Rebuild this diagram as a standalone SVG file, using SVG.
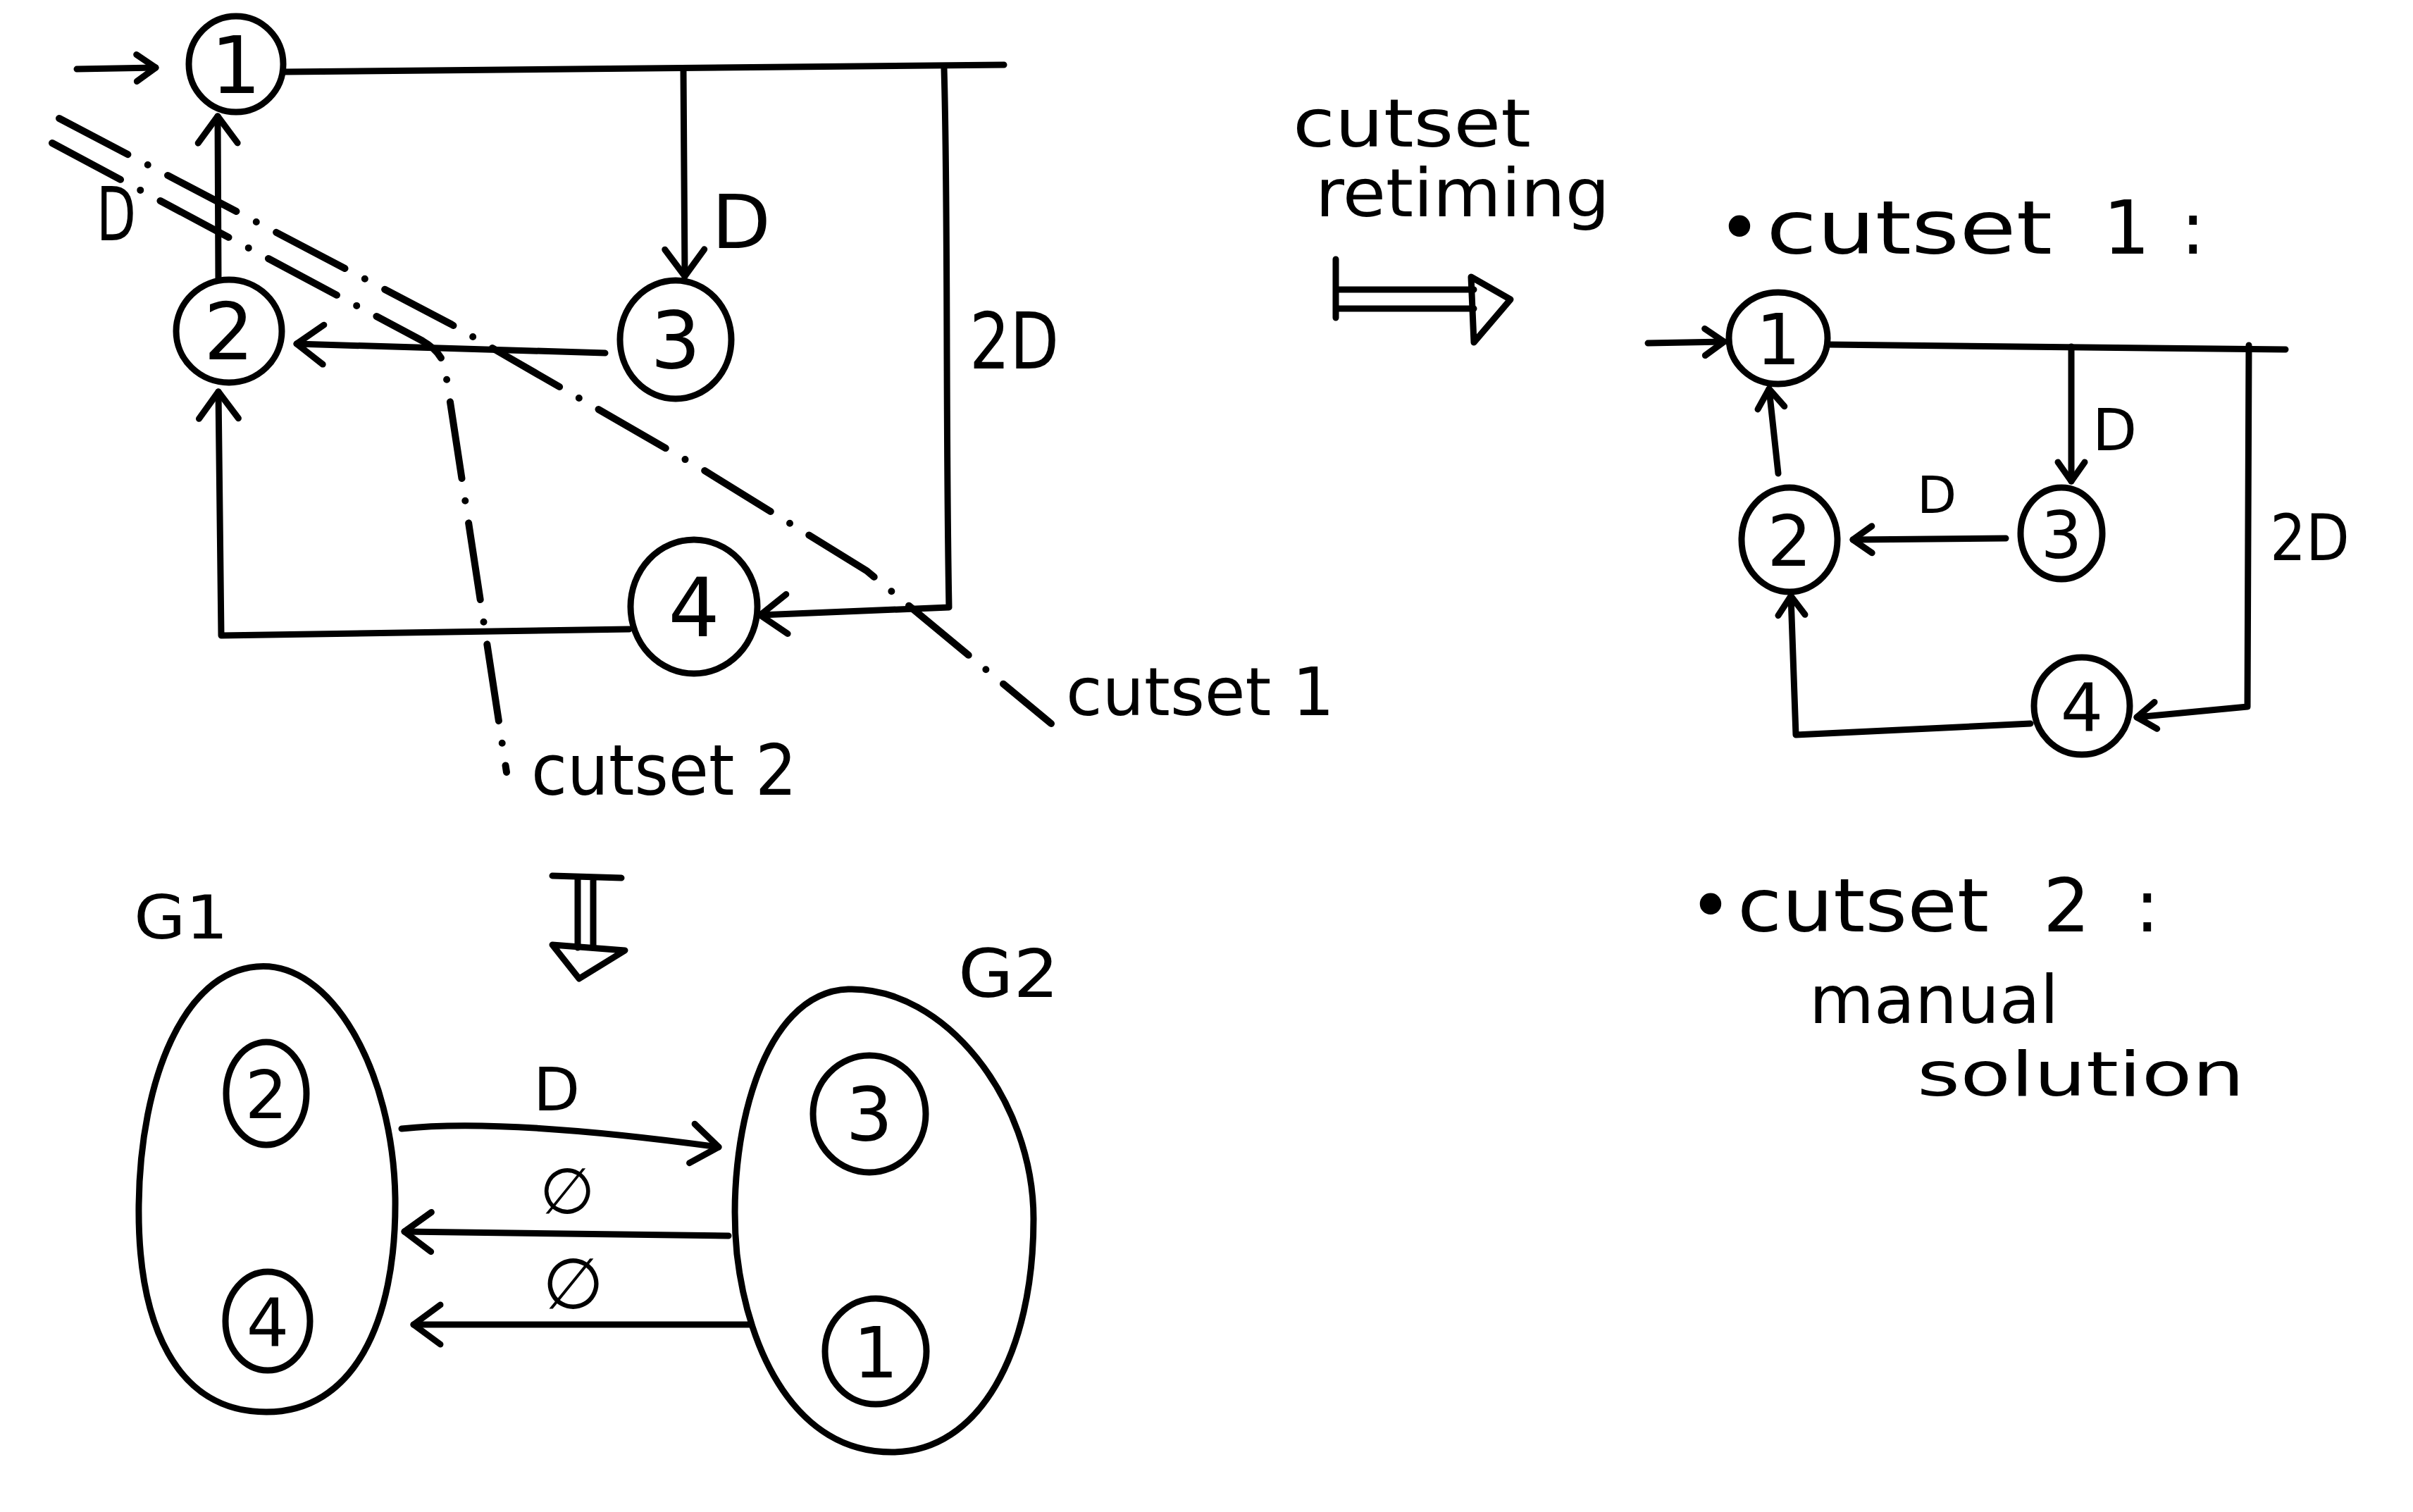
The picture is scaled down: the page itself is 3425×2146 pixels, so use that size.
<svg xmlns="http://www.w3.org/2000/svg" width="3425" height="2146" viewBox="0 0 3425 2146">
<style>
.s{fill:none;stroke:#000;stroke-width:9;stroke-linecap:round;stroke-linejoin:round}
.n{fill:#fff;stroke:#000;stroke-width:9}
.cut{fill:none;stroke:#000;stroke-width:10;stroke-linecap:round;stroke-dasharray:110 32 0 32}
text{font-family:"DejaVu Sans","Liberation Sans",sans-serif;fill:#000}
.d{text-anchor:middle}
</style>
<defs>
<marker id="ab" markerUnits="userSpaceOnUse" viewBox="-50 -40 60 80" markerWidth="60" markerHeight="80" refX="0" refY="0" orient="auto" overflow="visible">
<path d="M -38,-28 L 0,0 L -38,28" fill="none" stroke="#000" stroke-width="9" stroke-linecap="round" stroke-linejoin="round"/>
</marker>
<marker id="as" markerUnits="userSpaceOnUse" viewBox="-40 -30 50 60" markerWidth="50" markerHeight="60" refX="0" refY="0" orient="auto" overflow="visible">
<path d="M -27,-19 L 0,0 L -27,19" fill="none" stroke="#000" stroke-width="9" stroke-linecap="round" stroke-linejoin="round"/>
</marker>
</defs>
<rect width="3425" height="2146" fill="#fff"/>

<g id="connectors">
<!-- top-left graph -->
<path class="s" d="M 109,98 L 221,96" marker-end="url(#as)"/>
<path class="s" d="M 404,102 L 1425,92"/>
<path class="s" d="M 970,100 L 972,392" marker-end="url(#ab)"/>
<path class="s" d="M 1340,97 C 1346,300 1342,600 1347,862 L 1079,873" marker-end="url(#ab)"/>
<path class="s" d="M 859,501 L 421,488" marker-end="url(#ab)"/>
<path class="s" d="M 310,397 L 309,165" marker-end="url(#ab)"/>
<path class="s" d="M 893,893 L 314,902 L 310,556" marker-end="url(#ab)"/>
<!-- right graph -->
<path class="s" d="M 2339,487 L 2447,485" marker-end="url(#as)"/>
<path class="s" d="M 2595,489 L 3244,496"/>
<path class="s" d="M 2940,492 L 2940,683" marker-end="url(#as)"/>
<path class="s" d="M 2847,764 L 2630,766" marker-end="url(#as)"/>
<path class="s" d="M 2524,672 L 2511,552" marker-end="url(#as)"/>
<path class="s" d="M 3192,490 L 3190,1003 L 3033,1018" marker-end="url(#as)"/>
<path class="s" d="M 2882,1027 L 2549,1043 L 2542,846" marker-end="url(#as)"/>
<!-- bottom graph -->
<path class="s" d="M 570,1602 C 680,1590 850,1605 1020,1628" marker-end="url(#ab)"/>
<path class="s" d="M 1034,1754 L 574,1748" marker-end="url(#ab)"/>
<path class="s" d="M 1065,1880 L 587,1880" marker-end="url(#ab)"/>
</g>

<g id="cutsets">
<path class="cut" d="M 84,168 L 640,460 L 1000,668 L 1230,810 L 1492,1027"/>
<path class="cut" d="M 74,203 L 600,484 Q 628,500 632,525 L 719,1096"/>
</g>

<g id="transform-arrows">
<path class="s" d="M 1896,368 L 1896,451 M 1896,411 L 2092,411 M 1896,438 L 2092,438"/>
<path class="s" d="M 2088,393 L 2144,425 L 2092,486 Z"/>
<path class="s" d="M 784,1243 L 882,1246 M 820,1246 L 820,1345 M 842,1246 L 842,1345"/>
<path class="s" d="M 784,1341 L 887,1349 L 822,1389 Z"/>
</g>

<g id="groups">
<path id="G1" class="s" d="M 364,1372 C 470,1362 558,1520 561,1700 C 563,1880 500,2004 378,2004 C 250,2004 195,1880 197,1710 C 199,1530 262,1380 364,1372 Z"/>
<path id="G2" class="s" d="M 1204,1404 C 1340,1400 1467,1560 1467,1730 C 1467,1920 1390,2061 1266,2061 C 1130,2061 1062,1920 1046,1780 C 1030,1620 1080,1408 1204,1404 Z"/>
</g>

<g id="tl-n1"><ellipse class="n" cx="335" cy="91" rx="67" ry="68"/><text class="d" x="335" y="132" font-size="112">1</text></g>
<g id="tl-n2"><ellipse class="n" cx="325" cy="470" rx="75" ry="73"/><text class="d" x="325" y="510" font-size="112">2</text></g>
<g id="tl-n3"><ellipse class="n" cx="959" cy="482" rx="79" ry="84"/><text class="d" x="959" y="522" font-size="112">3</text></g>
<g id="tl-n4"><ellipse class="n" cx="985" cy="861" rx="90" ry="95"/><text class="d" x="985" y="903" font-size="115">4</text></g>

<g id="r-n1"><ellipse class="n" cx="2524" cy="480" rx="70" ry="65"/><text class="d" x="2524" y="517" font-size="100">1</text></g>
<g id="r-n2"><ellipse class="n" cx="2540" cy="766" rx="68" ry="74"/><text class="d" x="2540" y="803" font-size="100">2</text></g>
<g id="r-n3"><ellipse class="n" cx="2926" cy="757" rx="58" ry="65"/><text class="d" x="2926" y="792" font-size="92">3</text></g>
<g id="r-n4"><ellipse class="n" cx="2955" cy="1002" rx="68" ry="69"/><text class="d" x="2955" y="1037" font-size="95">4</text></g>

<g id="b-n2"><ellipse class="n" cx="378" cy="1552" rx="57" ry="73"/><text class="d" x="378" y="1587" font-size="95">2</text></g>
<g id="b-n4"><ellipse class="n" cx="380" cy="1875" rx="60" ry="70"/><text class="d" x="380" y="1910" font-size="95">4</text></g>
<g id="b-n3"><ellipse class="n" cx="1234" cy="1581" rx="80" ry="83"/><text class="d" x="1234" y="1619" font-size="105">3</text></g>
<g id="b-n1"><ellipse class="n" cx="1243" cy="1918" rx="72" ry="75"/><text class="d" x="1243" y="1955" font-size="100">1</text></g>

<g id="labels">
<text x="137" y="341" font-size="105" textLength="56" lengthAdjust="spacingAndGlyphs">D</text>
<text x="1010" y="352" font-size="105" textLength="84" lengthAdjust="spacingAndGlyphs">D</text>
<text x="1376" y="523" font-size="110" textLength="127" lengthAdjust="spacingAndGlyphs">2D</text>
<text x="1513" y="1015" font-size="95" textLength="381" lengthAdjust="spacingAndGlyphs">cutset 1</text>
<text x="754" y="1128" font-size="100" textLength="377" lengthAdjust="spacingAndGlyphs">cutset 2</text>
<text x="1835" y="208" font-size="95" textLength="338" lengthAdjust="spacingAndGlyphs">cutset</text>
<text x="1867" y="307" font-size="95" textLength="418" lengthAdjust="spacingAndGlyphs">retiming</text>
<text y="360" font-size="105"><tspan x="2438">•</tspan><tspan x="2507" textLength="406" lengthAdjust="spacingAndGlyphs">cutset</tspan><tspan x="2985">1</tspan><tspan x="3095">:</tspan></text>
<text x="2970" y="639" font-size="82">D</text>
<text x="2721" y="728" font-size="73">D</text>
<text x="3222" y="795" font-size="90" textLength="113" lengthAdjust="spacingAndGlyphs">2D</text>
<text y="1322" font-size="105"><tspan x="2397">•</tspan><tspan x="2466" textLength="357" lengthAdjust="spacingAndGlyphs">cutset</tspan><tspan x="2900">2</tspan><tspan x="3030">:</tspan></text>
<text x="2568" y="1452" font-size="95" textLength="354" lengthAdjust="spacingAndGlyphs">manual</text>
<text x="2721" y="1555" font-size="88" textLength="465" lengthAdjust="spacingAndGlyphs">solution</text>
<text x="190" y="1332" font-size="85" textLength="134" lengthAdjust="spacingAndGlyphs">G1</text>
<text x="1360" y="1415" font-size="95" textLength="143" lengthAdjust="spacingAndGlyphs">G2</text>
<text x="757" y="1576" font-size="86">D</text>
<text x="766" y="1722" font-size="90">∅</text>
<text x="770" y="1857" font-size="100">∅</text>
</g>
</svg>
